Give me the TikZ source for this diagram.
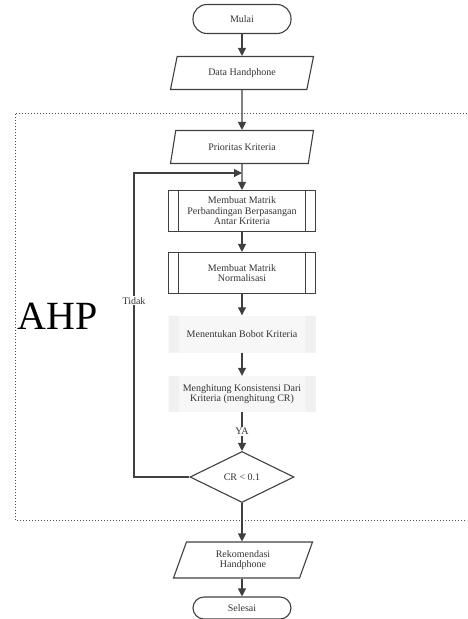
\documentclass[tikz,border=0pt]{standalone}
\usepackage{fontspec}
\setmainfont{Liberation Serif}
\usetikzlibrary{arrows.meta}
\usetikzlibrary{shapes.geometric}
\usetikzlibrary{positioning}

\begin{document}
\begin{tikzpicture}
	[x=1pt, y=-1pt,
	 every node/.style={font=\fontsize{10}{10.5}\selectfont, text=black!80, align=center},
	 garis/.style={draw=black!75, line width=1.1pt},
	 panah/.style={garis, -{Triangle[length=8pt,width=8pt]}},
	 terminal/.style={garis, rectangle, rounded corners=14pt, minimum width=98pt, minimum height=29pt},
	 masukan/.style={garis, trapezium, trapezium left angle=59, trapezium right angle=121, trapezium stretches body, minimum width=143pt, minimum height=33pt, inner sep=1pt},
	 proses/.style={garis, rectangle, minimum width=147pt, minimum height=41pt, inner sep=1pt,
	   path picture={\draw[black!75, line width=1.1pt]
	     ([xshift=10pt]path picture bounding box.north west) -- ([xshift=10pt]path picture bounding box.south west)
	     ([xshift=-10pt]path picture bounding box.north east) -- ([xshift=-10pt]path picture bounding box.south east);}},
	 pudar/.style={rectangle, fill=gray!6, minimum width=147pt, minimum height=37pt, inner sep=1pt,
	   path picture={\fill[gray!12]
	     (path picture bounding box.north west) rectangle ([xshift=10pt]path picture bounding box.south west)
	     ([xshift=-10pt]path picture bounding box.north east) rectangle (path picture bounding box.south east);}},
	 keputusan/.style={garis, diamond, aspect=2, minimum width=104pt, minimum height=51pt, inner sep=0pt}]
	\useasboundingbox (0,0) rectangle (467,619);
	% area AHP
	\draw[dotted, black!70, line width=1pt] (467,113) -- (15,113) -- (15,520) -- (467,520);
	\node[font=\fontsize{40}{40}\selectfont, text=black] (ahp) at (58,316) {AHP};

	\node[terminal] (mulai) at (242,19) {Mulai};
	\node[masukan] (dataHp) at (242,73) {Data Handphone};
	\node[masukan] (prioritas) at (242,147) {Prioritas Kriteria};
	\node[proses] (matrik) at (242,211) {Membuat Matrik\\Perbandingan Berpasangan\\Antar Kriteria};
	\node[proses] (normal) at (242,273) {Membuat Matrik\\Normalisasi};
	\node[pudar] (bobot) at (242,334) {Menentukan Bobot Kriteria};
	\node[pudar, minimum height=36pt] (konsisten) at (242,394) {Menghitung Konsistensi Dari\\Kriteria (menghitung CR)};
	\node[keputusan] (cek) at (242,477) {CR < 0.1};
	\node[masukan, minimum width=139pt, minimum height=36pt] (rekomendasi) at (243,560) {Rekomendasi\\Handphone};
	\node[terminal, minimum height=22pt, rounded corners=11pt] (selesai) at (242,608) {Selesai};

	\coordinate (gabung) at (242,173);
	\coordinate (balik) at (134,173);

	\draw[panah] (mulai) -- (dataHp);
	\draw[panah] (dataHp) -- (prioritas);
	\draw[panah] (prioritas) -- (matrik);
	\draw[panah] (matrik) -- (normal);
	\draw[panah] (normal) -- (bobot);
	\draw[panah] (bobot) -- (konsisten);
	\draw[panah] (konsisten) -- node[fill=white, inner sep=1pt] {YA} (cek);
	\draw[panah] (cek.south) -- (cek.south |- rekomendasi.north);
	\draw[panah] (rekomendasi.south -| selesai.north) -- (selesai.north);
	\draw[panah] (cek.west) -| node[pos=0.79, fill=white, inner sep=1pt] {Tidak} (balik) -- (gabung);
\end{tikzpicture}
\end{document}
